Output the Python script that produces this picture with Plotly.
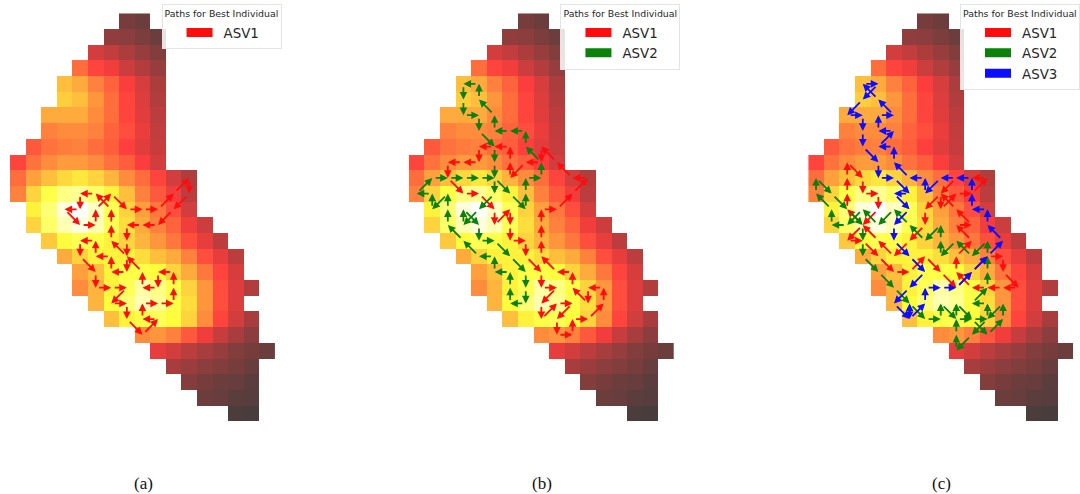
import plotly.graph_objects as go

ROW_START = [7, 6, 5, 4, 3, 3, 2, 2, 1, 0, 0, 0, 1, 1, 2, 3, 4, 4, 5, 6, 8, 9, 10, 11, 12, 14]
ROW_VALUES = [
    [11, 9],
    [16, 15, 12, 9],
    [28, 25, 21, 17, 13],
    [46, 38, 34, 27, 22, 17],
    [62, 58, 50, 44, 36, 29, 21],
    [65, 62, 54, 46, 38, 30, 22],
    [58, 58, 58, 52, 46, 38, 31, 24],
    [50, 52, 52, 50, 44, 40, 33, 25],
    [42, 47, 49, 50, 46, 43, 37, 31, 26],
    [38, 47, 52, 55, 55, 52, 47, 43, 36, 28],
    [46, 56, 62, 67, 70, 66, 60, 52, 46, 38, 28, 22],
    [50, 66, 76, 84, 86, 80, 72, 62, 50, 42, 34, 24],
    [72, 82, 95, 100, 92, 78, 66, 56, 48, 40, 28],
    [66, 80, 90, 96, 90, 78, 68, 58, 50, 44, 34, 27],
    [64, 74, 78, 76, 72, 66, 60, 54, 48, 40, 32, 24],
    [58, 66, 72, 72, 72, 68, 62, 58, 50, 40, 32, 24],
    [56, 62, 72, 76, 76, 74, 66, 58, 48, 38, 29],
    [52, 60, 72, 78, 88, 84, 76, 66, 54, 40, 30, 22],
    [60, 74, 82, 90, 86, 76, 68, 54, 40, 30],
    [62, 72, 76, 78, 74, 66, 52, 38, 28, 20],
    [52, 54, 50, 42, 34, 26, 20, 15],
    [32, 28, 24, 20, 17, 13, 11, 9],
    [20, 18, 15, 13, 11, 8],
    [13, 11, 9, 8, 6],
    [9, 8, 6, 5],
    [3, 2],
]

A_RED = [(6,14),(6,13),(6,12),(5,11),(4,11),(4,12),(3,12),(4,13),(5,13),(5,12),(6,11),(7,12),(8,12),(9,12),(10,11),(11,10),(11,11),(10,12),(9,13),(8,13),(7,13),(7,14),(7,15),(7,16),(6,16),(6,15),(5,15),(5,14),(4,14),(4,15),(5,16),(5,17),(6,17),(7,17),(6,18),(7,18),(7,19),(8,20),(9,19),(8,19),(8,18),(9,18),(10,18),(10,17),(10,16),(9,16),(9,17),(8,17),(8,16),(7,15),(6,14)]
B_RED = [(8,8),(8,9),(7,9),(6,10),(6,9),(6,8),(5,8),(4,8),(4,9),(3,9),(2,9),(2,10),(3,11),(4,11),(5,12),(5,13),(6,12),(6,13),(6,14),(7,14),(7,15),(8,16),(8,17),(9,17),(8,18),(8,19),(9,18),(10,18),(9,19),(9,20),(10,20),(10,19),(11,19),(12,18),(12,17),(11,17),(11,18),(10,17),(10,16),(9,16),(8,15),(8,14),(8,13),(8,12),(9,12),(10,11),(11,10),(10,10),(9,9),(8,8)]
B_GREEN = [(4,4),(3,4),(3,5),(3,6),(4,6),(4,7),(5,8),(5,9),(5,10),(5,11),(4,12),(3,13),(3,12),(4,13),(4,14),(5,14),(6,15),(7,16),(7,17),(7,18),(6,18),(6,17),(6,16),(5,16),(5,15),(4,15),(3,14),(2,13),(2,12),(2,11),(1,12),(1,11),(0,11),(1,10),(2,10),(3,10),(4,10),(5,10),(6,11),(7,12),(7,11),(7,10),(8,10),(8,9),(7,8),(7,7),(6,7),(5,7),(5,6),(4,5),(4,4)]
C_RED = [(2,12),(2,11),(2,10),(2,9),(3,10),(3,11),(4,11),(4,12),(3,13),(2,14),(3,14),(4,15),(5,16),(6,16),(7,15),(8,16),(9,17),(10,16),(11,15),(12,15),(12,16),(13,17),(12,17),(11,17),(10,17),(9,16),(9,15),(10,14),(9,13),(10,13),(9,12),(8,11),(8,12),(9,11),(10,11),(11,10),(10,10),(9,10),(8,11),(7,12),(7,13),(6,14),(5,15),(4,14),(3,13),(2,12)]
C_GREEN = [(11,14),(10,15),(9,14),(8,15),(8,14),(8,13),(7,14),(6,13),(5,12),(4,13),(3,12),(2,13),(1,13),(1,12),(0,11),(0,10),(1,11),(2,12),(3,13),(3,14),(3,15),(4,16),(5,17),(6,18),(7,19),(8,19),(8,18),(9,19),(9,18),(10,19),(11,20),(12,19),(12,18),(11,19),(10,20),(9,21),(9,20),(9,19),(10,19),(11,19),(11,18),(10,18),(11,17),(11,16),(11,15),(11,14)]
C_BLUE = [(4,5),(3,4),(4,4),(3,5),(2,6),(3,6),(3,7),(3,8),(4,9),(4,10),(5,10),(6,11),(5,11),(6,12),(5,13),(5,14),(6,15),(7,16),(6,17),(5,18),(6,19),(6,18),(6,19),(7,18),(7,17),(8,17),(9,17),(10,16),(11,15),(12,14),(11,13),(11,12),(10,12),(10,11),(10,10),(9,10),(8,10),(7,11),(7,10),(6,10),(5,9),(5,8),(4,8),(5,7),(4,7),(4,6),(5,6),(4,5)]

RED, GREEN, BLUE = "#ff0d0d", "#0b800b", "#0d0dff"
PANELS = [
    ("", [("ASV1", RED, A_RED)], "(a)", 10.0, 162),
    ("2", [("ASV1", RED, B_RED), ("ASV2", GREEN, B_GREEN)], "(b)", 410.0, 562),
    ("3", [("ASV1", RED, C_RED), ("ASV2", GREEN, C_GREEN), ("ASV3", BLUE, C_BLUE)], "(c)", 810.5, 963),
]
W, H = 1080, 494
CELL_W = 15.63
CELL_H = 15.68
TOP = 13.3
NCOL, NROW = 17, 26

z = []
for s, vals in zip(ROW_START, ROW_VALUES):
    z.append([None] * s + list(vals) + [None] * (NCOL - s - len(vals)))

HOT = [[0, "#000000"], [0.365, "#ff0000"], [0.746, "#ffff00"], [1, "#ffffff"]]

fig = go.Figure()
annotations = []
layout = {}
for suffix, paths, caption, x0, legx in PANELS:
    xname = "x" + suffix
    yname = "y" + suffix
    fig.add_trace(go.Heatmap(z=z, x=list(range(NCOL)), y=list(range(NROW)), colorscale=HOT,
                             zmin=0, zmax=100, showscale=False, opacity=0.76, hoverinfo="skip",
                             xaxis=xname, yaxis=yname))
    layout["xaxis" + suffix] = dict(domain=[x0 / W, (x0 + NCOL * CELL_W) / W], range=[-0.5, NCOL - 0.5],
                                    visible=False, anchor=yname, fixedrange=True)
    layout["yaxis" + suffix] = dict(domain=[1 - (TOP + NROW * CELL_H) / H, 1 - TOP / H], range=[NROW - 0.5, -0.5],
                                    visible=False, anchor=xname, fixedrange=True)
    legname = "legend" + suffix
    for name, color, path in paths:
        fig.add_trace(go.Scatter(x=[None], y=[None], mode="lines", name=name, legend=legname,
                                 xaxis=xname, yaxis=yname,
                                 line=dict(color=color, width=9, dash="0px,19px,26px,300px")))
        for (c0, r0), (c1, r1) in zip(path[:-1], path[1:]):
            annotations.append(dict(x=c1, y=r1, ax=c0, ay=r0, xref=xname, yref=yname, axref=xname, ayref=yname,
                                    text="", showarrow=True, arrowhead=2, arrowsize=0.85, arrowwidth=1.8,
                                    arrowcolor=color, standoff=0, startstandoff=2))
    layout[legname] = dict(x=legx / W, y=1 - 4 / H, xanchor="left", yanchor="top", itemwidth=51,
                           bgcolor="rgba(255,255,255,0.85)", bordercolor="#e4e4e4", borderwidth=1,
                           title=dict(text="Paths for Best Individual", font=dict(size=9.4, color="#262626")),
                           font=dict(size=13.4, color="#262626"), tracegroupgap=0, itemclick=False, itemdoubleclick=False)
    annotations.append(dict(x=(x0 + 133.5) / W, y=1 - 483.5 / H, xref="paper", yref="paper", text=caption,
                            xanchor="center", yanchor="middle", showarrow=False,
                            font=dict(family="Liberation Serif", size=17, color="#111111")))

fig.update_layout(width=W, height=H, margin=dict(l=0, r=0, t=0, b=0), paper_bgcolor="white",
                  plot_bgcolor="rgba(0,0,0,0)", font=dict(family="DejaVu Sans"), showlegend=True,
                  annotations=annotations, **layout)
fig.write_html("out.html", config={"displayModeBar": False}, post_script="document.body.style.margin='0';")
